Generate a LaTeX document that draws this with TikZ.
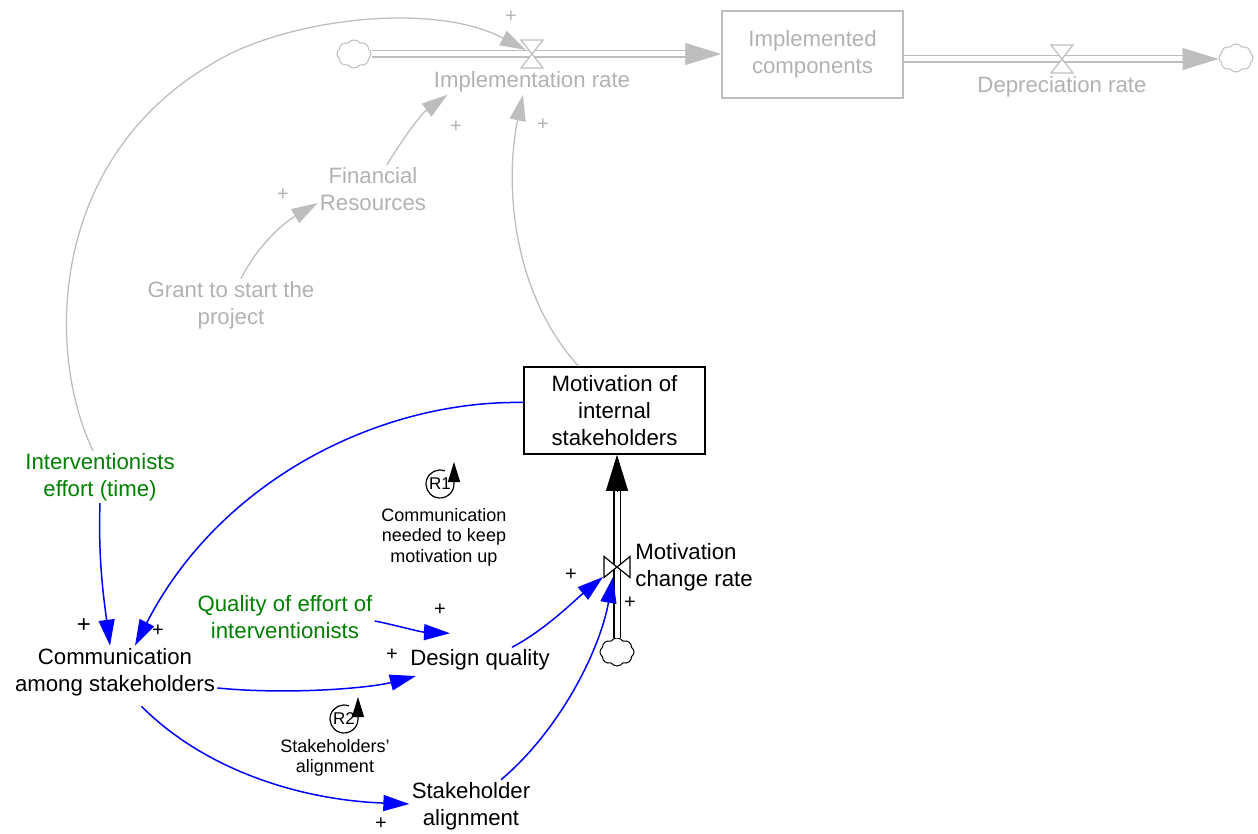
\documentclass[tikz,border=0pt]{standalone}
\usepackage{fontspec}
\setmainfont{Liberation Sans}
\usetikzlibrary{arrows.meta,shapes.symbols}
\definecolor{flowgray}{RGB}{190,190,190}
\definecolor{textgray}{RGB}{178,178,178}
\definecolor{linkblue}{RGB}{0,0,255}
\definecolor{exogreen}{RGB}{0,128,0}
\tikzset{var_label/.style={align=center, inner sep=1pt, font=\fontsize{11.1}{13.5}\selectfont}}
\tikzset{gray_label/.style={var_label, text=textgray}}
\tikzset{green_label/.style={var_label, text=exogreen}}
\tikzset{stock_box/.style={var_label, draw, line width=0.75pt, minimum width=90.5pt, minimum height=43.5pt}}
\tikzset{polarity/.style={inner sep=0pt, font=\fontsize{10}{12}\selectfont}}
\tikzset{loop_mark/.style={inner sep=0pt, font=\fontsize{8.5}{9}\selectfont}}
\tikzset{loop_note/.style={align=center, inner sep=0pt, font=\fontsize{9}{10.25}\selectfont}}
\tikzset{loop_arrow/.style={line width=0.6pt, -{Triangle[length=10pt,width=6pt]}}}
\tikzset{edge_blue/.style={color=linkblue, line width=0.75pt, -{Triangle[length=13pt,width=8pt]}}}
\tikzset{edge_gray/.style={color=flowgray, line width=0.65pt, -{Triangle[length=13pt,width=8pt]}}}
\tikzset{pipe/.style={double, double distance=2.5pt, line width=0.55pt}}
\tikzset{flow_tip/.style={-{Triangle[length=18pt,width=11pt]}}}
\tikzset{cloud_end/.style={cloud, cloud puffs=8, cloud puff arc=110, aspect=1.3, draw, fill=white, minimum width=17pt, minimum height=14pt, inner sep=0pt, line width=0.5pt}}
\tikzset{hourglass/.pic={\draw[fill=white, line width=0.6pt] (-11,-14) -- (11,-14) -- (0,0) -- cycle (-11,14) -- (11,14) -- (0,0) -- cycle;}}
\tikzset{bowtie/.pic={\draw[fill=white, line width=0.6pt] (-13,-10.5) -- (-13,10.5) -- (0,0) -- cycle (13,-10.5) -- (13,10.5) -- (0,0) -- cycle;}}

\begin{document}
\begin{tikzpicture}[x=0.5pt, y=-0.5pt]
  \useasboundingbox (0,0) rectangle (1258,834);

  % stock and flows at the top
  \node[cloud_end, draw=flowgray] (cloudL) at (354,54) {};
  \node[stock_box, draw=flowgray, text=textgray] (implcomp) at (812.5,54.5) {Implemented\\components};
  \node[cloud_end, draw=flowgray] (cloudR) at (1236,58) {};
  \coordinate (implv) at (532,54);
  \coordinate (depv) at (1062,59);
  \draw[pipe, draw=flowgray] (cloudL) -- ([xshift=-17pt]implcomp.west |- implv);
  \draw[flow_tip, flowgray] ([xshift=-18pt]implcomp.west |- implv) -- (implcomp.west |- implv);
  \draw[pipe, draw=flowgray] (implcomp.east |- depv) -- ([xshift=-17pt]cloudR.west |- depv);
  \draw[flow_tip, flowgray] ([xshift=-18pt]cloudR.west |- depv) -- (cloudR.west |- depv);
  \pic[flowgray] at (implv) {hourglass};
  \pic[flowgray] at (depv) {hourglass};
  \node[gray_label] (implrate) at (532,82) {Implementation rate};
  \node[gray_label] (deprate) at (1062,87) {Depreciation rate};
  \node[gray_label] (finres) at (373,189) {Financial\\Resources};
  \node[gray_label] (grant) at (231,305) {Grant to start the\\project};

  % motivation stock and its inflow
  \node[stock_box] (motiv) at (614.5,410.5) {Motivation of\\internal\\stakeholders};
  \node[cloud_end] (cloudB) at (617,652) {};
  \coordinate (motv) at (617,567);
  \coordinate (motin) at (motiv.south -| motv);
  \draw[pipe] (cloudB) -- ([yshift=-17pt]motin);
  \draw[flow_tip] ([yshift=-18pt]motin) -- (motin);
  \pic at (motv) {bowtie};
  \node[var_label, align=left, anchor=west] (motrate) at (633,567) {Motivation\\change rate};

  % variables
  \node[green_label] (inter) at (100,477) {Interventionists\\effort (time)};
  \node[var_label] (comm) at (115,672) {Communication\\among stakeholders};
  \node[green_label] (quality) at (285,617) {Quality of effort of\\interventionists};
  \node[var_label] (design) at (480,660) {Design quality};
  \node[var_label] (stake) at (471,806) {Stakeholder\\alignment};

  % gray links
  \draw[edge_gray] ([xshift=-3.5pt]inter.north) .. controls (45,350) and (50,160) .. (210,65)
    .. controls (280,20) and (430,0) .. ([xshift=-3pt,yshift=2pt]implv);
  \draw[edge_gray] (finres.60) .. controls (402,140) and (420,115) .. ([xshift=8pt]implrate.south west);
  \draw[edge_gray] ([xshift=5pt]grant.north) .. controls (255,250) and (280,225) .. ([yshift=5pt]finres.south west);
  \draw[edge_gray] ([xshift=-18pt]motiv.north) .. controls (510,290) and (505,180) .. ([xshift=-4.5pt]implrate.south);

  % blue links
  \draw[edge_blue] (inter.south) .. controls (98,560) and (104,600) .. ([xshift=-2.5pt]comm.north);
  \draw[edge_blue] ([yshift=4pt]motiv.west) .. controls (380,400) and (220,480) .. ([xshift=10pt]comm.north);
  \draw[edge_blue] ([yshift=-2pt]quality.east) .. controls (395,625) and (420,632) .. ([xshift=-15pt,yshift=7pt]design.north);
  \draw[edge_blue] ([yshift=-8pt]comm.east) .. controls (290,695) and (370,688) .. ([xshift=4pt,yshift=-8pt]design.west);
  \draw[edge_blue] ([xshift=16pt]design.north) .. controls (545,630) and (575,600) .. ([xshift=-7pt,yshift=-5pt]motv);
  \draw[edge_blue] ([xshift=-38pt,yshift=-4pt]comm.south east) .. controls (205,770) and (300,800) .. ([yshift=1pt]stake.west);
  \draw[edge_blue] ([xshift=15pt]stake.north) .. controls (560,730) and (600,650) .. ([xshift=-2pt,yshift=-5pt]motv);

  % polarities
  \node[polarity, text=textgray] (pg1) at (511,17) {+};
  \node[polarity, text=textgray] (pg2) at (456,127) {+};
  \node[polarity, text=textgray] (pg3) at (543,125) {+};
  \node[polarity, text=textgray] (pg4) at (283,195) {+};
  \node[polarity, font=\fontsize{12}{14}\selectfont] (pb1) at (84,626) {+};
  \node[polarity] (pb2) at (158,631) {+};
  \node[polarity] (pb3) at (440,610) {+};
  \node[polarity] (pb4) at (392,655) {+};
  \node[polarity] (pb5) at (571,575) {+};
  \node[polarity] (pb6) at (630,603) {+};
  \node[polarity] (pb7) at (381,824) {+};

  % loops
  \node[loop_mark] (r1) at (440,484) {R1};
  \draw[loop_arrow] (r1.center) ++(70:7pt) arc[start angle=70, end angle=360, radius=7pt] -- ++(0pt,11pt);
  \node[loop_note] (r1note) at (444,537) {Communication\\needed to keep\\motivation up};
  \node[loop_mark] (r2) at (344,719) {R2};
  \draw[loop_arrow] (r2.center) ++(70:7pt) arc[start angle=70, end angle=360, radius=7pt] -- ++(0pt,11pt);
  \node[loop_note] (r2note) at (335,758) {Stakeholders'\\alignment};
\end{tikzpicture}
\end{document}
